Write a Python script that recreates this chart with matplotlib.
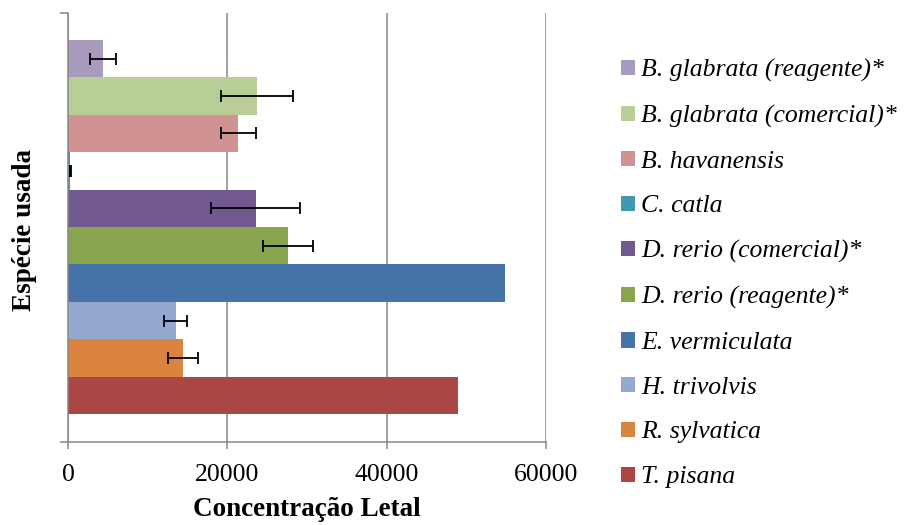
import matplotlib
matplotlib.use("Agg")
import matplotlib.pyplot as plt
from matplotlib.patches import Patch

species = ["T. pisana", "R. sylvatica", "H. trivolvis", "E. vermiculata",
           "D. rerio (reagente)*", "D. rerio (comercial)*", "C. catla",
           "B. havanensis", "B. glabrata (comercial)*", "B. glabrata (reagente)*"]
values = [48900, 14400, 13500, 54800, 27600, 23550, 300, 21400, 23700, 4400]
errors = [0, 1900, 1450, 0, 3100, 5550, 60, 2150, 4550, 1600]
colors = ["#AA4643", "#DB843D", "#93A9CF", "#4572A7", "#89A54E",
          "#71588F", "#4198AF", "#D09392", "#B9CD96", "#A99BBD"]
xticks = [0, 20000, 40000, 60000]

plt.rcParams['font.family'] = ['Liberation Serif', 'DejaVu Serif']

fig = plt.figure(figsize=(9.09, 5.25), dpi=100)
ax = fig.add_axes([68/909, 1-441.5/525, (546-68)/909, (441.5-12.5)/525])

gray = "#868686"
pos = list(range(len(species)))
for i, (v, e, c) in enumerate(zip(values, errors, colors)):
    ax.barh(pos[i], v, height=1.0, color=c, zorder=2)
    if e > 0:
        ax.errorbar(v, pos[i], xerr=e, fmt='none', ecolor='black',
                    elinewidth=1.3, capsize=4, capthick=1.3, zorder=3)

ylo, yhi = -0.5 - 0.73, len(species) - 0.5 + 0.73
ax.set_ylim(ylo, yhi)
ax.set_xlim(0, 60000)
ax.set_xticks(xticks)
ax.set_xticklabels([str(t) for t in xticks], fontsize=18.5)
ax.set_yticks([ylo, yhi])
ax.set_yticklabels(["", ""])
ax.grid(axis='x', color=gray, linewidth=1.1, zorder=0)
ax.set_axisbelow(True)
for s in ['top', 'right']:
    ax.spines[s].set_visible(False)
for s in ['left', 'bottom']:
    ax.spines[s].set_color(gray)
    ax.spines[s].set_linewidth(1.1)
ax.tick_params(axis='x', direction='out', length=5, width=1.1, color=gray, pad=11)
ax.tick_params(axis='y', direction='out', length=6, width=1.1, color=gray)

ax.set_xlabel("Concentração Letal", fontsize=19.5, fontweight='bold', labelpad=8)
fig.text(25/909, 1-230/525, "Espécie usada", rotation=90, fontsize=19.5,
         fontweight='bold', ha='center', va='center')

handles = [Patch(facecolor=c, edgecolor='none') for c in colors]
order = list(range(len(species)))[::-1]
leg = fig.legend([handles[i] for i in order], [species[i] for i in order],
                 loc='upper left', bbox_to_anchor=(621/909, 1-59/525),
                 frameon=False, prop={'style': 'italic', 'size': 18.5},
                 handlelength=0.54, handleheight=0.54, handletextpad=0.25,
                 labelspacing=0.886, borderaxespad=0, borderpad=0)

fig.savefig("out.png", dpi=100)
